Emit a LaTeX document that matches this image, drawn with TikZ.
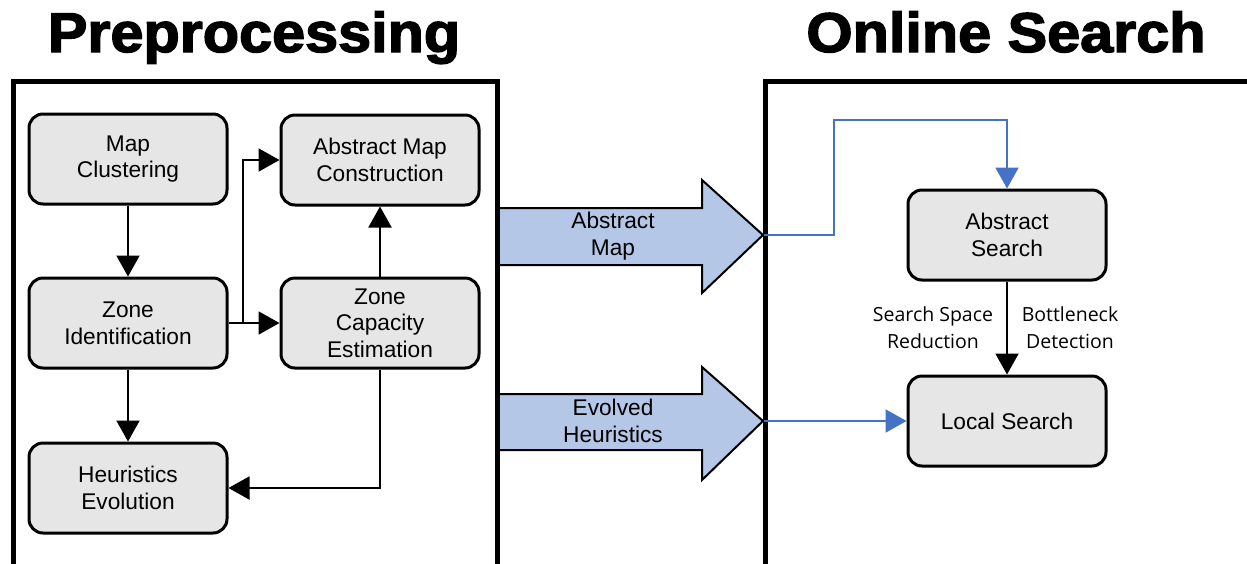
\documentclass[tikz,border=0pt]{standalone}
\usepackage{fontspec}
\setmainfont{Liberation Sans}
\newfontfamily\lblfont{Open Sans}
\usetikzlibrary{arrows.meta}
\definecolor{boxgray}{HTML}{E6E6E6}
\definecolor{arrowblue}{HTML}{B4C7E7}
\definecolor{lineblue}{HTML}{4472C4}
\begin{document}
\begin{tikzpicture}[x=1pt,y=-1pt,
  box/.style={draw,line width=3pt,rounded corners=14pt,fill=boxgray,minimum width=198pt,minimum height=90pt,align=center,inner sep=0pt,font=\fontsize{22.7}{26.7}\selectfont},
  conn/.style={line width=2pt,-{Triangle[length=21pt,width=23pt]}},
  bconn/.style={conn,draw=lineblue,-{Triangle[length=21pt,width=23pt,fill=lineblue]}},
  panel/.style={draw,line width=5pt},
  blockarrow/.style={draw,line width=2pt,fill=arrowblue,line join=miter},
  atext/.style={align=center,inner sep=0pt,font=\fontsize{22.7}{26.7}\selectfont},
  lbl/.style={align=center,inner sep=0pt,font=\lblfont\fontsize{19.5}{27}\selectfont},
  title/.style={anchor=base,inner sep=0pt,font=\fontsize{56}{60}\selectfont\bfseries\addfontfeature{FakeBold=2.5}}
]
\useasboundingbox (0,0) rectangle (1247,563);
\clip (0,0) rectangle (1247,563);
\fill[white] (0,0) rectangle (1247,563);
% titles
\node[title] (t1) at (254,52) {\scalebox{1.06}[1]{Preprocessing}};
\node[title] (t2) at (1006,52) {\scalebox{1.06}[1]{Online Search}};
% block arrows
\draw[blockarrow] (497,208) -- (702,208) -- (702,180) -- (763,235) -- (702,293) -- (702,265) -- (497,265);
\draw[blockarrow] (497,394) -- (702,394) -- (702,367) -- (763,421) -- (702,480) -- (702,450) -- (497,450);
\node[atext] (amt) at (613,236) {Abstract\\Map};
\node[atext] (eht) at (613,421) {Evolved\\Heuristics};
\coordinate (tip1) at (764,235);
\coordinate (tip2) at (764,421);
% panels
\draw[panel] (13,81) rectangle (497,620);
\draw[panel] (765,81) rectangle (1249,620);
% left nodes
\node[box] (mc) at (128,159) {Map\\Clustering};
\node[box] (am) at (380,160) {Abstract Map\\Construction};
\node[box] (zi) at (128,323) {Zone\\Identification};
\node[box] (zc) at (380,323) {Zone\\Capacity\\Estimation};
\node[box] (he) at (128,488) {Heuristics\\Evolution};
% right nodes
\node[box] (as) at (1007,235) {Abstract\\Search};
\node[box] (ls) at (1007,421) {Local Search};
% connectors
\draw[conn] (mc) -- (zi);
\draw[conn] (zi) -- (he);
\draw[conn] (zi) -- (zc);
\draw[conn] (zi.east) -- ++(14,0) |- (am.west);
\draw[conn] (zc) -- (am);
\draw[conn] (zc.south) |- (he.east);
\draw[bconn] (tip1) -- (834,235) -- (834,120) -| (as.north);
\draw[bconn] (tip2) -- (ls.west);
\draw[conn] (as) -- (ls);
\node[lbl] (l1) at (933,328) {Search Space\\Reduction};
\node[lbl] (l2) at (1070,328) {Bottleneck\\Detection};
\end{tikzpicture}
\end{document}
